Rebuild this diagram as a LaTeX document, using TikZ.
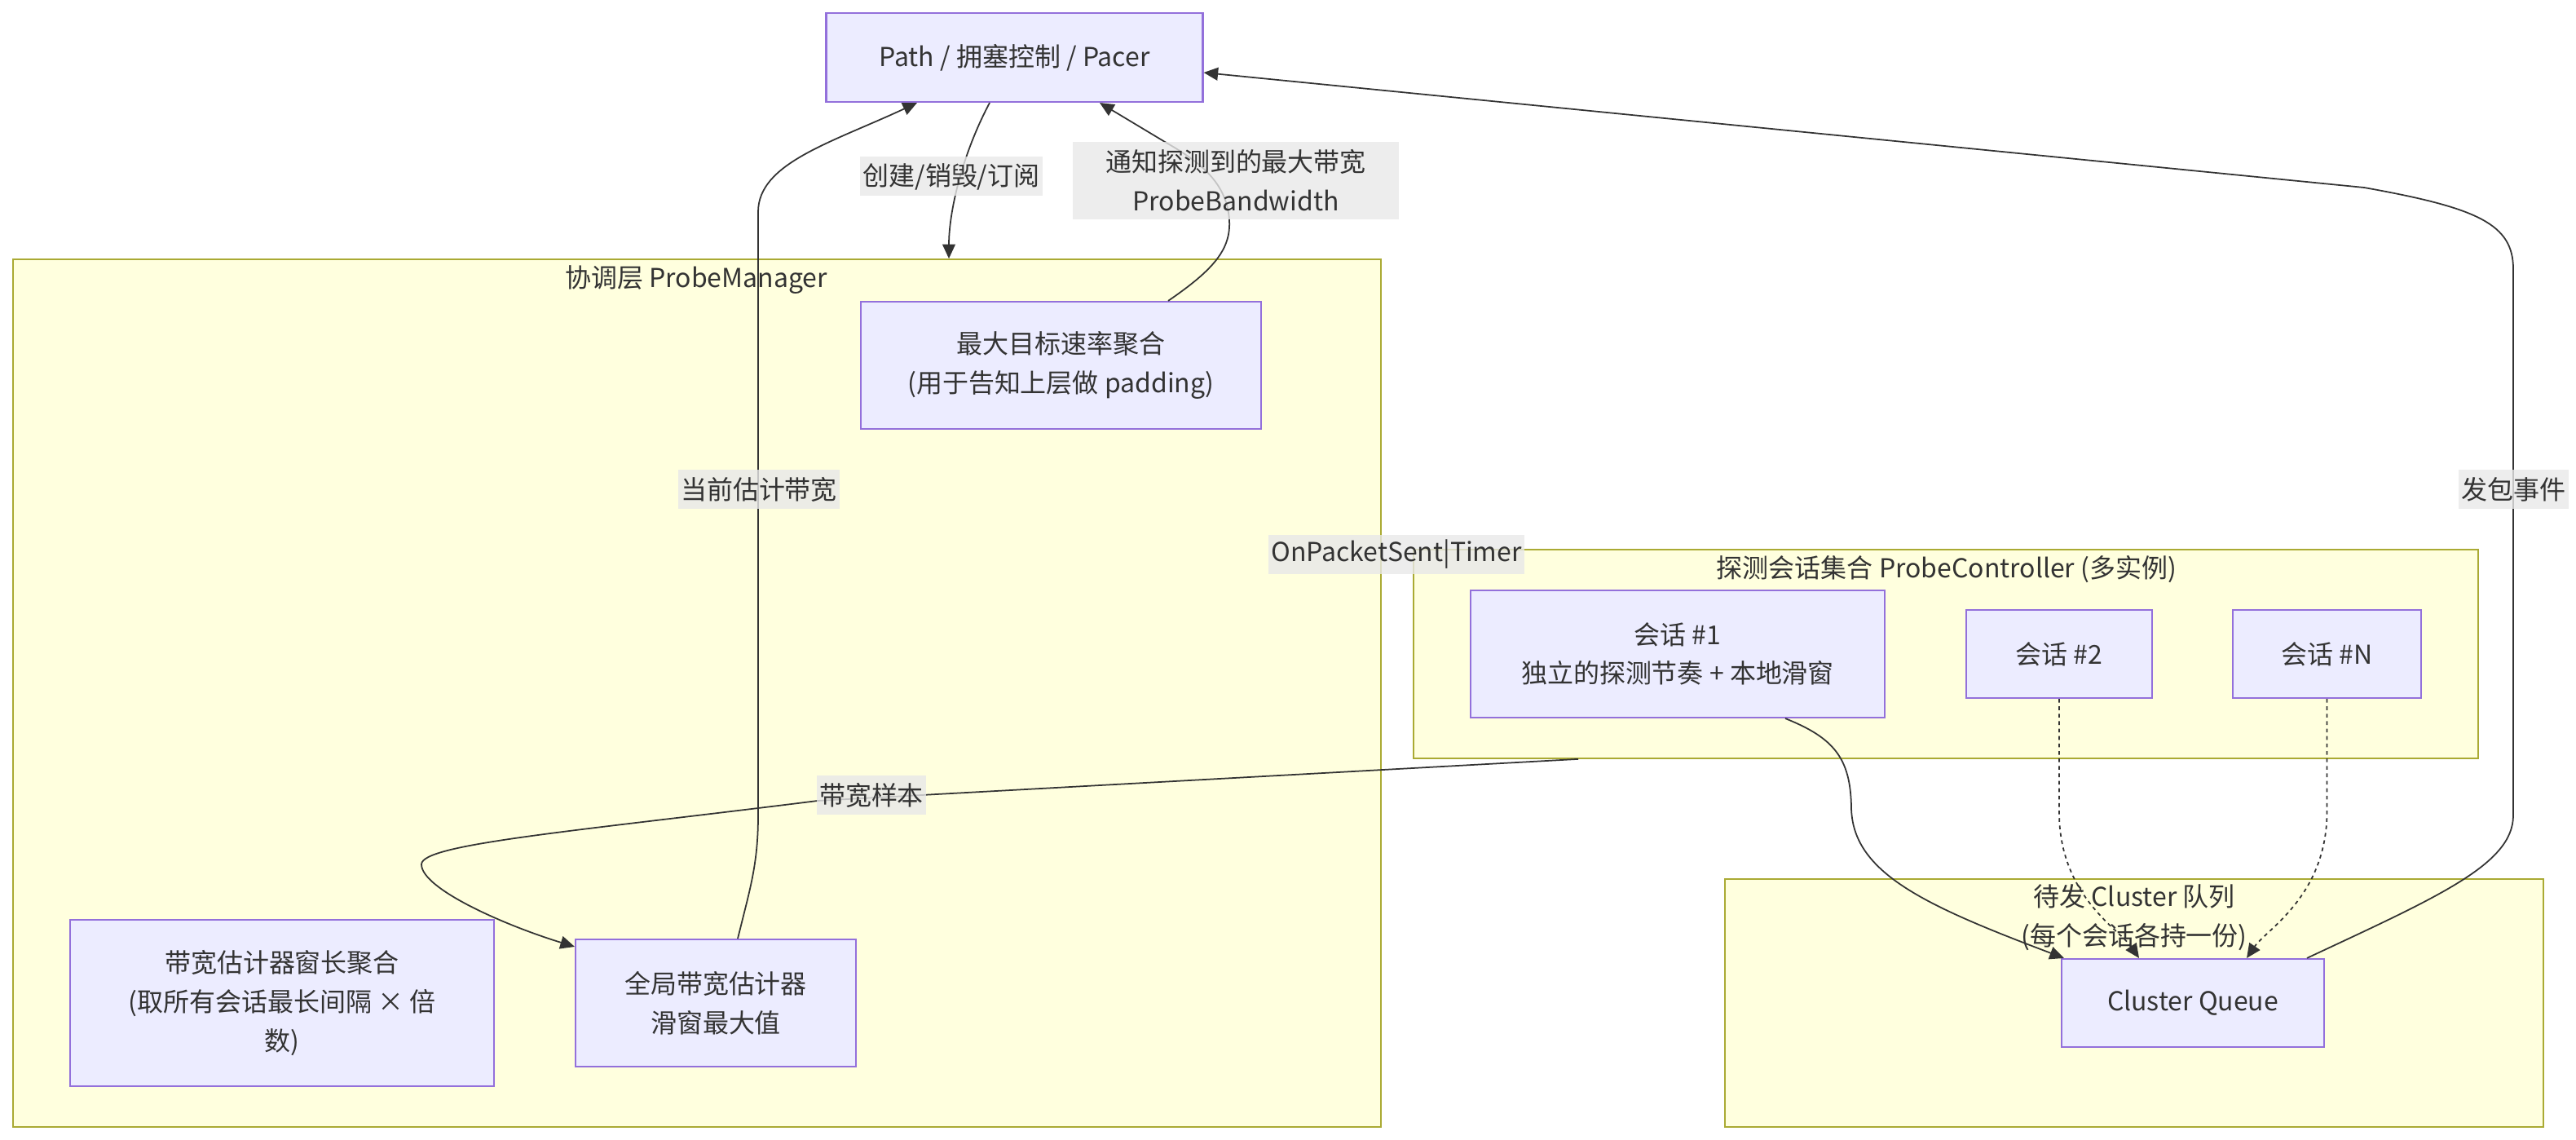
\documentclass[tikz,border=0pt]{standalone}
\usepackage{fontspec}
\setmainfont{Noto Sans CJK SC}
\usetikzlibrary{arrows.meta,calc}
\definecolor{nodefill}{HTML}{ECECFF}
\definecolor{nodedraw}{HTML}{9370DB}
\definecolor{clusterfill}{HTML}{FFFFDE}
\definecolor{clusterdraw}{HTML}{AAAA33}
\definecolor{edgebg}{HTML}{E8E8E8}
\definecolor{ink}{HTML}{333333}
\newcommand\mmfont{\fontsize{9.1pt}{13.6pt}\selectfont}

\begin{document}
\begin{tikzpicture}[
    box/.style={rectangle, draw=nodedraw, fill=nodefill, line width=0.6pt, align=center,
                text=ink, font=\mmfont, inner sep=0pt},
    cluster/.style={rectangle, draw=clusterdraw, fill=clusterfill, line width=0.5pt, inner sep=0pt},
    ctitle/.style={align=center, text=ink, font=\mmfont, inner sep=0pt},
    lbl/.style={fill=edgebg, fill opacity=0.8, text opacity=1, text=ink, inner xsep=1pt,
                inner ysep=0pt, minimum height=0.48cm, align=center, font=\mmfont},
    arr/.style={-{Triangle[length=5pt,width=4.5pt]}, line width=0.5pt, ink},
    dotarr/.style={arr, dash pattern=on 1.3pt off 1.3pt}
]
    \useasboundingbox (0,0) rectangle (31.6,-13.98);

    % subgraphs
    \node[cluster, minimum width=16.78cm, minimum height=10.64cm] (pm) at (8.55,-8.50) {};
    \node[ctitle] (pmtitle) at (8.54,-3.43) {协调层 ProbeManager};
    \node[cluster, minimum width=13.06cm, minimum height=2.56cm] (pc) at (23.87,-8.02) {};
    \node[ctitle] (pctitle) at (23.88,-6.98) {探测会话集合 ProbeController (多实例)};
    \node[cluster, minimum width=10.04cm, minimum height=3.04cm] (cq) at (26.18,-12.30) {};

    % nodes
    \node[box, minimum width=4.62cm, minimum height=1.09cm] (path) at (12.445,-0.705) {Path / 拥塞控制 / Pacer};
    \node[box, minimum width=4.91cm, minimum height=1.56cm] (maxrate) at (13.015,-4.48) {最大目标速率聚合\\(用于告知上层做 padding)};
    \node[box, minimum width=5.20cm, minimum height=2.04cm] (winlen) at (3.46,-12.30) {带宽估计器窗长聚合\\(取所有会话最长间隔 × 倍\\数)};
    \node[box, minimum width=3.44cm, minimum height=1.56cm] (est) at (8.78,-12.30) {全局带宽估计器\\滑窗最大值};
    \node[box, minimum width=5.08cm, minimum height=1.56cm] (s1) at (20.58,-8.02) {会话 \#1\\独立的探测节奏 + 本地滑窗};
    \node[box, minimum width=2.28cm, minimum height=1.08cm] (s2) at (25.26,-8.02) {会话 \#2};
    \node[box, minimum width=2.31cm, minimum height=1.08cm] (sn) at (28.545,-8.02) {会话 \#N};
    \node[box, minimum width=3.22cm, minimum height=1.08cm] (queue) at (26.90,-12.30) {Cluster Queue};

    % edges
    \draw[arr] ([xshift=-0.305cm]path.south) .. controls (11.80,-1.90) and (11.64,-2.60) .. ([xshift=3.09cm]pm.north);
    \draw[arr] ([xshift=1.315cm]maxrate.north) .. controls (14.90,-3.30) and (15.10,-3.05) .. (15.08,-2.70)
        .. controls (15.05,-2.20) and (14.65,-1.95) .. (14.29,-1.74) -- ([xshift=1.045cm]path.south);
    \draw[arr] ([xshift=0.27cm]est.north) .. controls (9.20,-10.90) and (9.30,-10.60) .. (9.30,-10.00)
        -- (9.30,-2.60) .. controls (9.30,-2.00) and (10.20,-1.75) .. ([xshift=-1.195cm]path.south);
    \draw[arr] ([xshift=-4.51cm]pc.south) -- (10.03,-9.82) .. controls (7.00,-10.20) and (5.17,-10.35) .. (5.17,-10.60)
        .. controls (5.17,-10.90) and (6.20,-11.35) .. ([yshift=-0.1cm]est.north west);
    \draw[arr] ([xshift=1.32cm]s1.south) .. controls (22.50,-9.05) and (22.70,-9.30) .. (22.71,-9.90)
        .. controls (22.72,-10.70) and (23.60,-11.10) .. ([xshift=0.04cm]queue.north west);
    \draw[dotarr] (s2.south) -- (25.26,-10.00) .. controls (25.28,-11.00) and (26.00,-11.40) .. ([xshift=-0.66cm]queue.north);
    \draw[dotarr] (sn.south) -- (28.545,-10.00) .. controls (28.52,-11.00) and (27.80,-11.40) .. ([xshift=0.66cm]queue.north);
    \draw[arr] ([xshift=1.40cm]queue.north) .. controls (29.90,-11.00) and (30.83,-10.60) .. (30.83,-10.00)
        -- (30.83,-3.30) .. controls (30.83,-2.75) and (30.40,-2.55) .. (29.00,-2.30) -- ([yshift=-0.185cm]path.east);

    % edge labels
    \node[ctitle] (cqtitle) at (26.18,-11.25) {待发 Cluster 队列\\(每个会话各持一份)};
    \node[lbl] (lcreate) at (11.67,-2.165) {创建/销毁/订阅};
    \node[lbl, inner xsep=0.4cm, minimum height=0.95cm] (lnotify) at (15.16,-2.215) {通知探测到的最大带宽\\ProbeBandwidth};
    \node[lbl] (lcur) at (9.31,-6.00) {当前估计带宽};
    \node[lbl] (lsample) at (10.69,-9.75) {带宽样本};
    \node[lbl] (lsent) at (17.13,-6.80) {OnPacketSent|Timer};
    \node[lbl] (lpkt) at (30.83,-6.00) {发包事件};
\end{tikzpicture}
\end{document}
